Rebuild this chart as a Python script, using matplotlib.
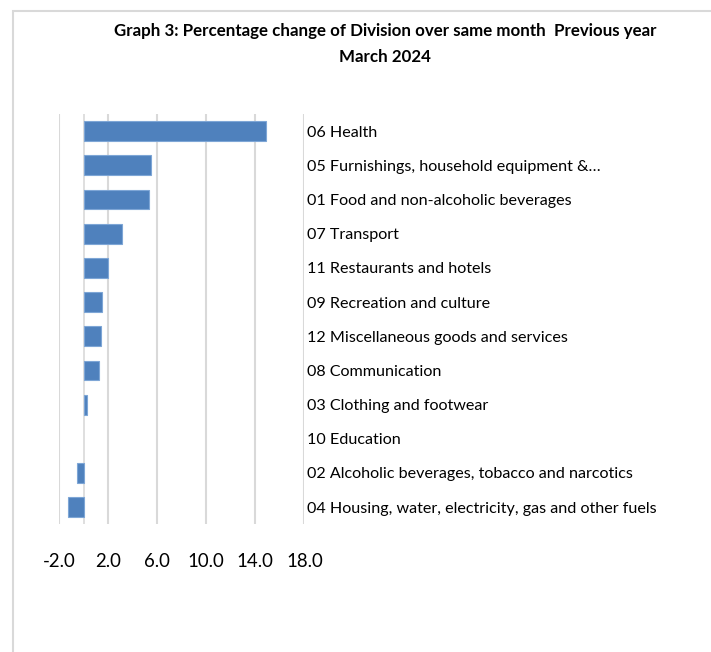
import matplotlib.pyplot as plt
from matplotlib.patches import Rectangle

# data (top to bottom)
categories = [
    "06 Health",
    "05 Furnishings, household equipment &\u2026",
    "01 Food and non-alcoholic beverages",
    "07 Transport",
    "11 Restaurants and hotels",
    "09 Recreation and culture",
    "12 Miscellaneous goods and services",
    "08 Communication",
    "03 Clothing and footwear",
    "10 Education",
    "02 Alcoholic beverages, tobacco and narcotics",
    "04 Housing, water, electricity, gas and other fuels",
]
pct_change = [14.9, 5.5, 5.3, 3.1, 2.0, 1.5, 1.4, 1.3, 0.25, 0.0, -0.55, -1.25]
xticks = [-2.0, 2.0, 6.0, 10.0, 14.0, 18.0]

FONT = ["Lato", "DejaVu Sans"]

fig = plt.figure(figsize=(7.11, 6.52), dpi=100)
ax = fig.add_axes([0.083, 0.196, 0.345, 0.629])

ypos = list(range(len(categories)))
edges = ["#7ea6d6" if v != 0 else "none" for v in pct_change]
ax.barh(ypos, pct_change, height=0.58, color="#4f81bd",
        edgecolor=edges, linewidth=0.8, zorder=3)

ax.set_ylim(len(categories) - 0.5, -0.5)
ax.set_xlim(-2, 18)
ax.set_xticks(xticks)
ax.set_xticklabels([f"{v:.1f}" for v in xticks], family=FONT, fontsize=13.4)
ax.tick_params(axis="x", length=0, pad=21)

ax.yaxis.tick_right()
ax.set_yticks(ypos)
ax.set_yticklabels(categories, family=FONT, fontsize=11.6, ha="left")
ax.tick_params(axis="y", length=0, pad=2)

ax.grid(axis="x", color="#d9d9d9", linewidth=1.5, zorder=0)
ax.axvline(0, color="#d9d9d9", linewidth=1.2, zorder=1)
for s in ax.spines.values():
    s.set_visible(False)

fig.text(0.542, 0.953, "Graph 3: Percentage change of Division over same month  Previous year",
         ha="center", va="center", fontsize=12.2, fontweight="bold", family=FONT)
fig.text(0.542, 0.913, "March 2024", ha="center", va="center",
         fontsize=12.2, fontweight="bold", family=FONT)

# light chart-area border (only left and top visible in the crop)
fig.patches.append(Rectangle((13 / 711, -0.1), 1.2, 1 - 11 / 652 + 0.1,
                             transform=fig.transFigure, fill=False,
                             edgecolor="#d9d9d9", linewidth=1.5))

fig.savefig("out.png", dpi=100)
